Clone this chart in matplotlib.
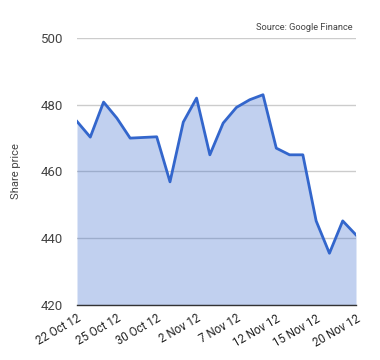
import matplotlib
matplotlib.use("Agg")
import matplotlib.pyplot as plt

plt.rcParams['font.family'] = ['Roboto', 'DejaVu Sans']

# trading days, 22 Oct 12 .. 20 Nov 12
dates = ["22 Oct 12", "23 Oct 12", "24 Oct 12", "25 Oct 12", "26 Oct 12",
         "29 Oct 12", "30 Oct 12", "31 Oct 12", "1 Nov 12", "2 Nov 12",
         "5 Nov 12", "6 Nov 12", "7 Nov 12", "8 Nov 12", "9 Nov 12",
         "12 Nov 12", "13 Nov 12", "14 Nov 12", "15 Nov 12", "16 Nov 12",
         "19 Nov 12", "20 Nov 12"]
prices = [475.0, 470.3, 480.8, 476.0, 470.0, 470.2, 470.4, 456.9, 474.8, 482.0,
          465.0, 474.5, 479.2, 481.5, 483.0, 467.0, 465.0, 465.0, 445.2, 435.5,
          445.2, 441.0]
tick_labels = ["22 Oct 12", "25 Oct 12", "30 Oct 12", "2 Nov 12",
               "7 Nov 12", "12 Nov 12", "15 Nov 12", "20 Nov 12"]
y_ticks = [420, 440, 460, 480, 500]

fig = plt.figure(figsize=(3.8, 3.6), dpi=100)
ax = fig.add_axes([77/380, 1 - 305/360, (356-77)/380, (305-38)/360])

x = list(range(len(dates)))
ax.fill_between(x, prices, 420, color='#3366cc', alpha=0.3, linewidth=0, zorder=1)
ax.plot(x, prices, color='#3366cc', linewidth=2, zorder=2)

ax.set_xlim(0, len(dates) - 1)
ax.set_ylim(420, 500)
ax.set_yticks(y_ticks)
ax.set_yticklabels([str(v) for v in y_ticks], fontsize=9.5, color='#444444')
ax.set_axisbelow(True)
ax.grid(axis='y', color='#cccccc', linewidth=1)

ax.set_xticks([dates.index(t) for t in tick_labels])
ax.set_xticklabels(tick_labels, rotation=30, ha='right', rotation_mode='anchor',
                   fontsize=8.3, color='#222222')
ax.tick_params(length=0)
ax.tick_params(axis='y', pad=10)
ax.tick_params(axis='x', pad=5)

for s in ['top', 'right', 'left']:
    ax.spines[s].set_visible(False)
ax.spines['bottom'].set_color('#333333')
ax.spines['bottom'].set_linewidth(1)
ax.spines['bottom'].set_zorder(3)

ax.set_ylabel('Share price', fontsize=8, color='#444444', labelpad=14)
fig.text(353/380, 1 - 27/360, 'Source: Google Finance', ha='right', va='center',
         fontsize=6.7, color='#444444')

fig.savefig('out.png', dpi=100)
